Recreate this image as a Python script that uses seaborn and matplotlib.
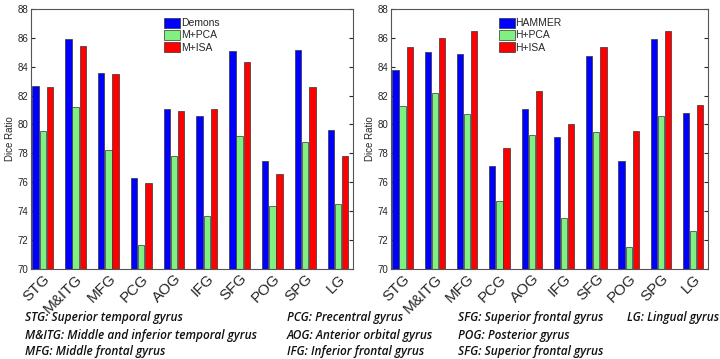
import numpy as np
import pandas as pd
import matplotlib
matplotlib.use('Agg')
import matplotlib.pyplot as plt
import seaborn as sns

# Data
regions = ['STG', 'M&ITG', 'MFG', 'PCG', 'AOG', 'IFG', 'SFG', 'POG', 'SPG', 'LG']

demons = [82.7, 85.9, 83.6, 76.3, 81.1, 80.6, 85.1, 77.45, 85.15, 79.6]
m_pca = [79.55, 81.2, 78.2, 71.65, 77.85, 73.65, 79.2, 74.35, 78.8, 74.5]
m_isa = [82.6, 85.45, 83.5, 75.95, 80.9, 81.05, 84.3, 76.6, 82.6, 77.8]

hammer = [83.8, 85.0, 84.9, 77.1, 81.05, 79.1, 84.75, 77.5, 85.9, 80.8]
h_pca = [81.25, 82.15, 80.7, 74.7, 79.25, 73.5, 79.45, 71.55, 80.6, 72.6]
h_isa = [85.4, 86.0, 86.45, 78.35, 82.35, 80.05, 85.4, 79.55, 86.5, 81.35]

left_methods = ['Demons', 'M+PCA', 'M+ISA']
right_methods = ['HAMMER', 'H+PCA', 'H+ISA']

footnotes = [
    ['STG: Superior temporal gyrus', 'M&ITG: Middle and inferior temporal gyrus', 'MFG: Middle frontal gyrus'],
    ['PCG: Precentral gyrus', 'AOG: Anterior orbital gyrus', 'IFG: Inferior frontal gyrus'],
    ['SFG: Superior frontal gyrus', 'POG: Posterior gyrus', 'SFG: Superior frontal gyrus'],
    ['LG: Lingual gyrus'],
]

colors = ['#0000ff', '#80f080', '#ff0000']


def long_table(methods, series):
    rows = []
    for m, vals in zip(methods, series):
        for r, v in zip(regions, vals):
            rows.append({'Region': r, 'Method': m, 'Dice': v})
    return pd.DataFrame(rows)


sns.set_style('white')
plt.rcParams['font.family'] = ['Liberation Sans', 'DejaVu Sans']

fig = plt.figure(figsize=(7.2, 3.59), dpi=100)
ax1 = fig.add_axes([0.043, 0.251, 0.447, 0.724])
ax2 = fig.add_axes([0.543, 0.251, 0.440, 0.724])


def draw_panel(ax, df, methods, leg_x):
    sns.barplot(data=df, x='Region', y='Dice', hue='Method', hue_order=methods,
                palette=colors, width=0.66, gap=0.13, ax=ax,
                edgecolor='#333333', linewidth=0.5, saturation=1, errorbar=None)
    ax.set_ylim(70, 88)
    ax.set_yticks(np.arange(70, 89, 2))
    ax.set_xlim(-0.36, 9.45)
    ax.set_xlabel('')
    ax.set_ylabel('Dice Ratio', fontsize=7, labelpad=2)
    ax.tick_params(axis='y', direction='in', labelsize=7, length=3, pad=2, left=True, right=True)
    ax.tick_params(axis='x', length=0, labelsize=11, pad=2)
    plt.setp(ax.get_xticklabels(), rotation=45, ha='right', rotation_mode='anchor')
    for s in ax.spines.values():
        s.set_color('#555555')
        s.set_linewidth(0.8)
    ax.legend(loc='upper center', bbox_to_anchor=(leg_x, 0.99), frameon=False,
              fontsize=7.5, handlelength=1.5, handleheight=1.1,
              handletextpad=0.1, labelspacing=0.15, borderaxespad=0.2)


draw_panel(ax1, long_table(left_methods, [demons, m_pca, m_isa]), left_methods, 0.5)
draw_panel(ax2, long_table(right_methods, [hammer, h_pca, h_isa]), right_methods, 0.44)

# Abbreviation key under the charts
col_x = [25, 287, 458, 627]
row_y = [317, 335, 352]
for cx, col in zip(col_x, footnotes):
    for ry, txt in zip(row_y, col):
        fig.text(cx / 720, 1 - ry / 359, txt, fontsize=8.6, style='italic', fontweight='semibold',
                 family=['Open Sans', 'DejaVu Sans'], va='center', ha='left', color='#111111')

plt.savefig('out.png', dpi=100)
